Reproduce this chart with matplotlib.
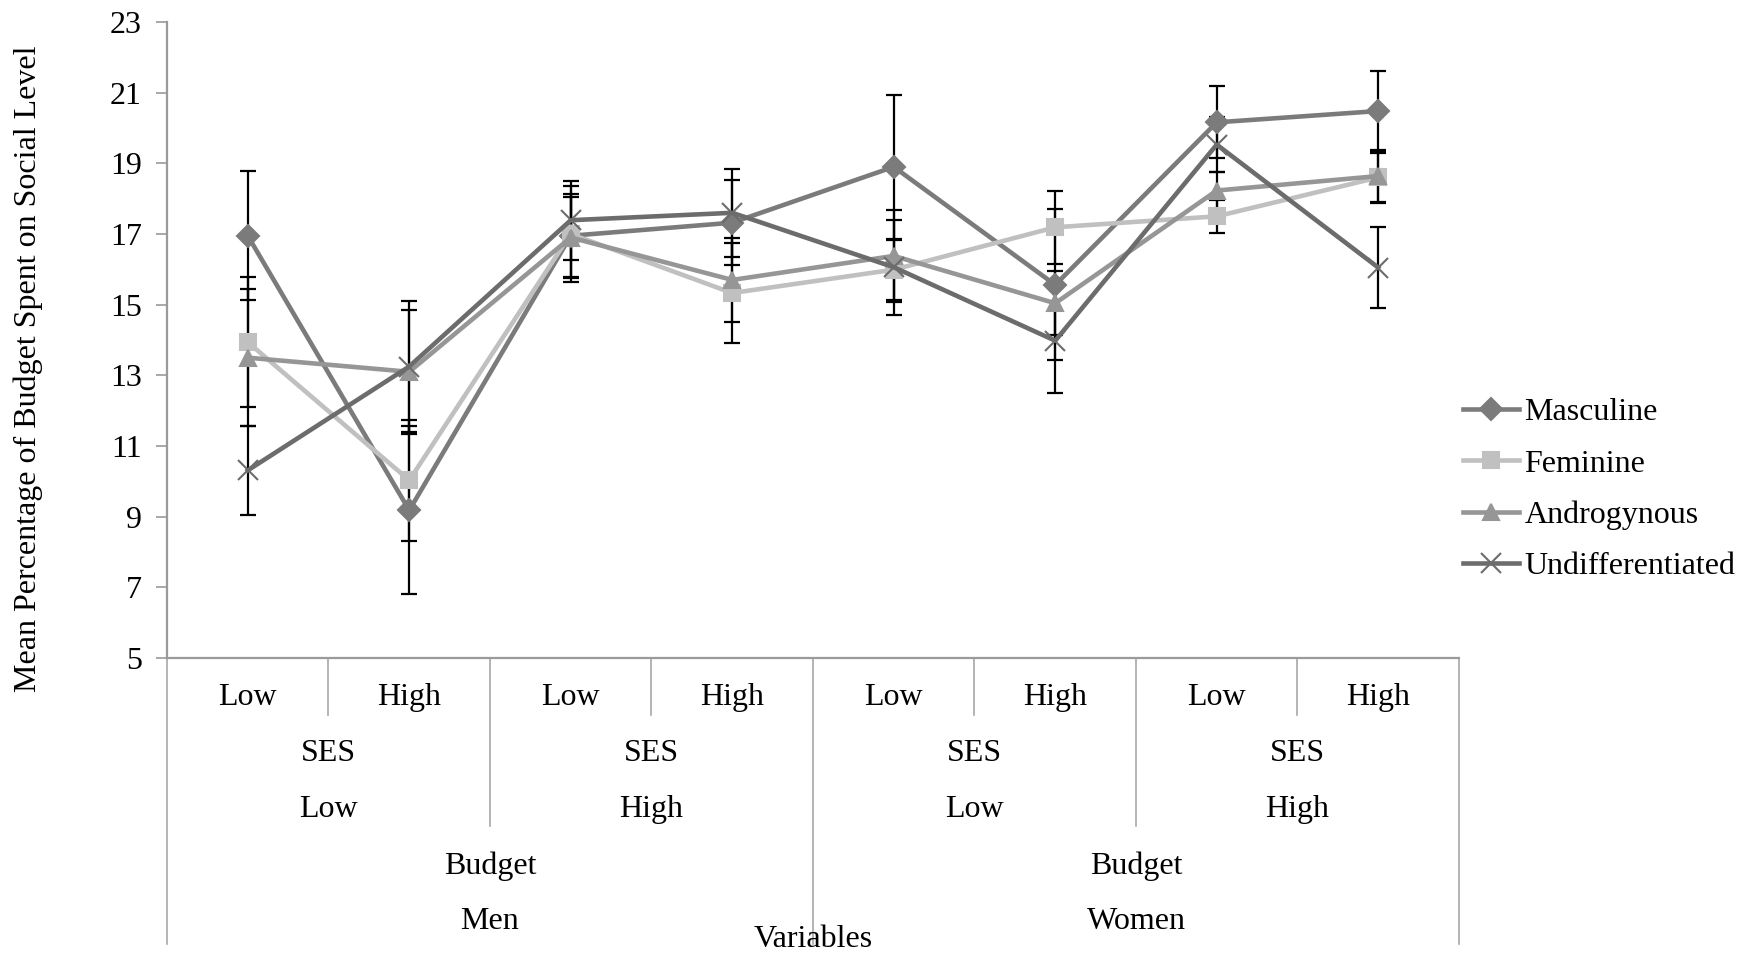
import matplotlib.pyplot as plt
import matplotlib.transforms as mtransforms

plt.rcParams['font.family'] = ['Liberation Serif', 'DejaVu Serif']

# category levels, innermost first
budget_labels = ["Low", "High", "Low", "High", "Low", "High", "Low", "High"]
ses_labels = ["Low", "High", "Low", "High"]
sex_labels = ["Men", "Women"]

series_names = ["Masculine", "Feminine", "Androgynous", "Undifferentiated"]
masc = [16.95, 9.18, 16.95, 17.32, 18.90, 15.56, 20.16, 20.48]
masc_err = [1.82, 2.38, 1.18, 1.20, 2.03, 2.14, 1.02, 1.12]
fem = [13.94, 10.03, 17.00, 15.33, 15.99, 17.19, 17.50, 18.60]
fem_err = [1.83, 1.71, 1.36, 1.41, 0.85, 1.04, 0.47, 0.70]
andr = [13.50, 13.10, 16.90, 15.70, 16.38, 15.04, 18.23, 18.64]
andr_err = [1.94, 1.75, 1.14, 1.20, 1.31, 0.90, 0.53, 0.75]
undiff = [10.31, 13.25, 17.39, 17.60, 16.06, 13.98, 19.53, 16.05]
undiff_err = [1.27, 1.85, 1.12, 1.25, 1.35, 1.49, 0.77, 1.15]

colors = ["#7b7b7b", "#c0c0c0", "#969696", "#6c6c6c"]
markers = ["D", "s", "^", "x"]
msizes = [11, 12, 12, 14]
fs = 23

fig = plt.figure(figsize=(17.45, 9.56), dpi=100)
ax = fig.add_axes([0.0957, 0.3117, 0.8361 - 0.0957, 0.977 - 0.3117])

x = list(range(len(budget_labels)))
series = [(masc, masc_err), (fem, fem_err), (andr, andr_err), (undiff, undiff_err)]
for vals, err in series:
    ax.errorbar(x, vals, yerr=err, fmt="none", ecolor="black", elinewidth=1.6,
                capsize=6, capthick=1.6, zorder=2)
for (vals, err), name, c, m, ms in zip(series, series_names, colors, markers, msizes):
    ax.plot(x, vals, color=c, lw=3.3, marker=m, ms=ms, mec=c, mew=1.5,
            label=name, zorder=3)

ax.set_xlim(-0.5, 7.5)
ax.set_ylim(5, 23)
ax.set_yticks(range(5, 24, 2))
ax.set_xticks([])
ax.tick_params(axis="y", labelsize=fs, length=8, color="#9a9a9a", width=1.2, pad=10)
for s in ["top", "right"]:
    ax.spines[s].set_visible(False)
for s in ["left", "bottom"]:
    ax.spines[s].set_color("#9a9a9a")
    ax.spines[s].set_linewidth(1.6)

# multi-level category axis drawn under the plot
trans = mtransforms.blended_transform_factory(ax.transData, ax.transAxes)
h_px = 636.0


def yfrac(px):
    return -px / h_px


grid_kw = dict(color="#a8a8a8", lw=1.2, transform=trans, clip_on=False)
for b in [0.5, 2.5, 4.5, 6.5]:
    ax.plot([b, b], [0, yfrac(57)], **grid_kw)
for b in [1.5, 5.5]:
    ax.plot([b, b], [0, yfrac(168)], **grid_kw)
for b in [-0.5, 3.5, 7.5]:
    ax.plot([b, b], [0, yfrac(286)], **grid_kw)

for i, lab in enumerate(budget_labels):
    ax.text(i, yfrac(39), lab, ha="center", va="center", fontsize=fs, transform=trans)
for j, lab in enumerate(ses_labels):
    ax.text(2 * j + 0.5, yfrac(95), "SES", ha="center", va="center", fontsize=fs, transform=trans)
    ax.text(2 * j + 0.5, yfrac(151), lab, ha="center", va="center", fontsize=fs, transform=trans)
for k, lab in enumerate(sex_labels):
    ax.text(4 * k + 1.5, yfrac(208), "Budget", ha="center", va="center", fontsize=fs, transform=trans)
    ax.text(4 * k + 1.5, yfrac(263), lab, ha="center", va="center", fontsize=fs, transform=trans)
ax.text(3.5, yfrac(281), "Variables", ha="center", va="center", fontsize=fs, transform=trans)

fig.text(0.016, 0.614, "Mean Percentage of Budget Spent on Social Level",
         rotation=90, ha="center", va="center", fontsize=fs)

ax.legend(loc="center left", bbox_to_anchor=(0.8384, 0.488), bbox_transform=fig.transFigure,
          frameon=False, fontsize=fs, handlelength=1.75, handletextpad=0.17,
          labelspacing=0.68, borderaxespad=0, borderpad=0)

fig.savefig("out.png", dpi=100)
